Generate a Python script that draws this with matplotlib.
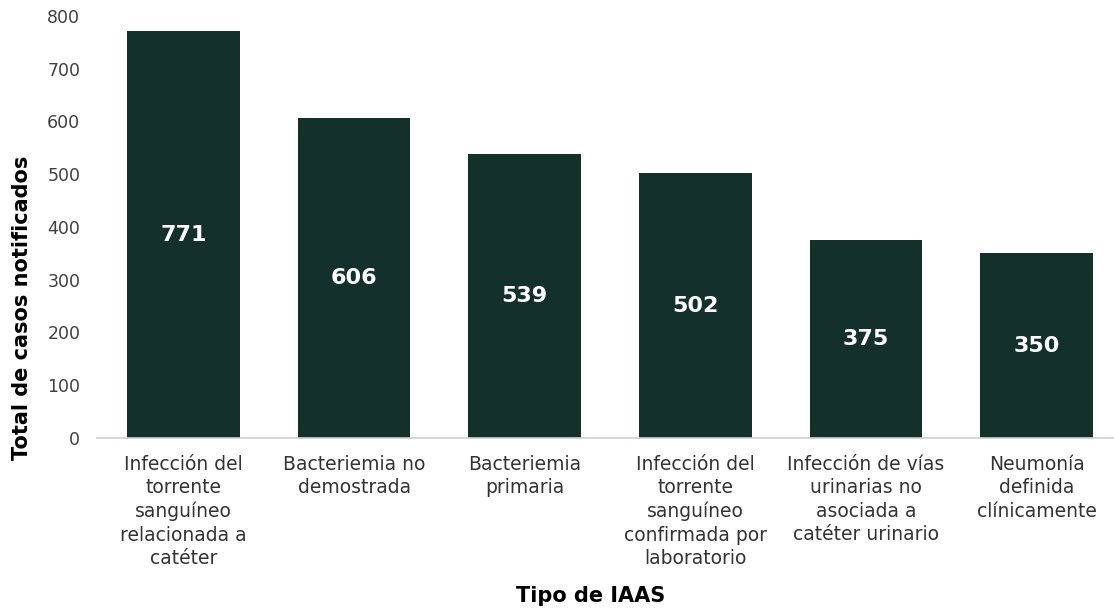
import matplotlib
matplotlib.use("Agg")
import matplotlib.pyplot as plt

categorias = [
    "Infección del\ntorrente\nsanguíneo\nrelacionada a\ncatéter",
    "Bacteriemia no\ndemostrada",
    "Bacteriemia\nprimaria",
    "Infección del\ntorrente\nsanguíneo\nconfirmada por\nlaboratorio",
    "Infección de vías\nurinarias no\nasociada a\ncatéter urinario",
    "Neumonía\ndefinida\nclínicamente",
]
casos = [771, 606, 539, 502, 375, 350]
yticks = [0, 100, 200, 300, 400, 500, 600, 700, 800]

plt.rcParams['font.family'] = ['DejaVu Sans']

fig = plt.figure(figsize=(11.14, 6.12), dpi=100)
ax = fig.add_axes([0.0871, 0.2843, 0.9129, 0.6896])

x = list(range(len(casos)))
bars = ax.bar(x, casos, width=0.66, color='#13302b', zorder=2)

for b, v in zip(bars, casos):
    ax.text(b.get_x() + b.get_width() / 2, v / 2, str(v), ha='center', va='center',
            color='white', fontsize=16, fontweight='bold')

ax.set_xlim(-0.507, 5.454)
ax.set_ylim(0, 800)
ax.set_yticks(yticks)
ax.set_xticks(x)
ax.set_xticklabels(categorias, fontsize=13.5, color='#333333', linespacing=1.3)
ax.tick_params(axis='y', length=0, labelsize=12.5, labelcolor='#404040', pad=12)
ax.tick_params(axis='x', length=0, pad=12)

for s in ['top', 'right', 'left']:
    ax.spines[s].set_visible(False)
ax.spines['bottom'].set_color('#d0d0d0')
ax.spines['bottom'].set_linewidth(1.2)

fig.text(0.0197, 0.497, 'Total de casos notificados', rotation=90, ha='center', va='center',
         fontsize=15, fontweight='bold')
fig.text(0.53, 0.026, 'Tipo de IAAS', ha='center', va='center', fontsize=15, fontweight='bold')

fig.savefig('out.png', dpi=100)
